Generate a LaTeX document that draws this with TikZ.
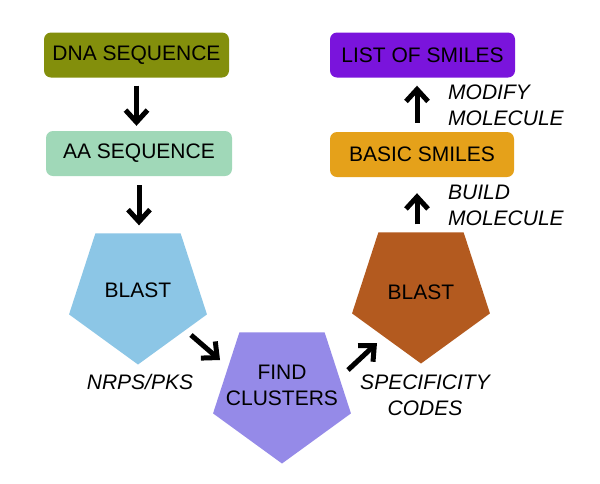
\documentclass[tikz,border=0pt]{standalone}
\usepackage{fontspec}
\setmainfont{Liberation Sans}
\usetikzlibrary{shapes.geometric,arrows.meta}
\definecolor{dnacol}{HTML}{838F0C}
\definecolor{aacol}{HTML}{A0D8B8}
\definecolor{blueblast}{HTML}{8CC6E6}
\definecolor{findcol}{HTML}{958AE8}
\definecolor{brownblast}{HTML}{B35A1F}
\definecolor{basiccol}{HTML}{E5A11A}
\definecolor{listcol}{HTML}{7A14DC}
\begin{document}
\begin{tikzpicture}[x=1pt,y=-1pt,
  font=\fontsize{21}{26}\selectfont,
  box/.style={rectangle, rounded corners=7pt, minimum width=185pt, minimum height=45pt, inner sep=0pt},
  pent/.style={regular polygon, regular polygon sides=5, shape border rotate=180, minimum size=145pt, inner sep=0pt, outer sep=0pt},
  lbl/.style={inner sep=0pt, font=\fontsize{21}{26}\selectfont\itshape},
  arr/.style={line width=5pt, -{Straight Barb[length=12pt,width=22pt]}}]
\useasboundingbox[fill=white] (0,0) rectangle (600,483);

\node[box, fill=dnacol] (dna) at (136.5,55) {DNA SEQUENCE};
\node[box, fill=aacol, minimum width=186pt] (aa) at (139,153.5) {AA SEQUENCE};
\node[box, fill=basiccol, minimum width=184pt] (basic) at (422,154.5) {BASIC SMILES};
\node[box, fill=listcol] (list) at (422.5,55) {LIST OF SMILES};

\node[pent, fill=blueblast] (blast1) at (138,292) {};
\node[inner sep=0pt] (blast1t) at (138,290) {BLAST};
\node[pent, fill=findcol] (find) at (282,391) {};
\node[inner sep=0pt, align=center] (findt) at (282,385.5) {FIND\\CLUSTERS};
\node[pent, fill=brownblast] (blast2) at (421,291) {};
\node[inner sep=0pt] (blast2t) at (421,292) {BLAST};

\node[lbl] (nrps) at (140,382) {NRPS/PKS};
\node[lbl, align=center] (spec) at (425,395) {SPECIFICITY\\CODES};
\node[lbl, align=left, anchor=west] (modify) at (448,105) {MODIFY\\MOLECULE};
\node[lbl, align=left, anchor=west] (build) at (448,205) {BUILD\\MOLECULE};

\coordinate (d1s) at (191,335);
\coordinate (d1e) at (220,360);
\coordinate (d2s) at (348,370);
\coordinate (d2e) at (377,343);

\draw[arr, shorten <=8pt, shorten >=5pt] (dna.south) -- (dna.south |- aa.north);
\draw[arr, shorten <=9pt, shorten >=8pt] (aa.south) -- (aa.south |- blast1.north);
\draw[arr] (d1s) -- (d1e);
\draw[arr] (d2s) -- (d2e);
\draw[arr, shorten <=8pt, shorten >=16pt] ([xshift=-4pt]blast2.north) -- ([xshift=-4pt]blast2.north |- basic.south);
\draw[arr, shorten <=9pt, shorten >=8pt] ([xshift=-5pt]basic.north) -- ([xshift=-5pt]basic.north |- list.south);
\end{tikzpicture}
\end{document}
